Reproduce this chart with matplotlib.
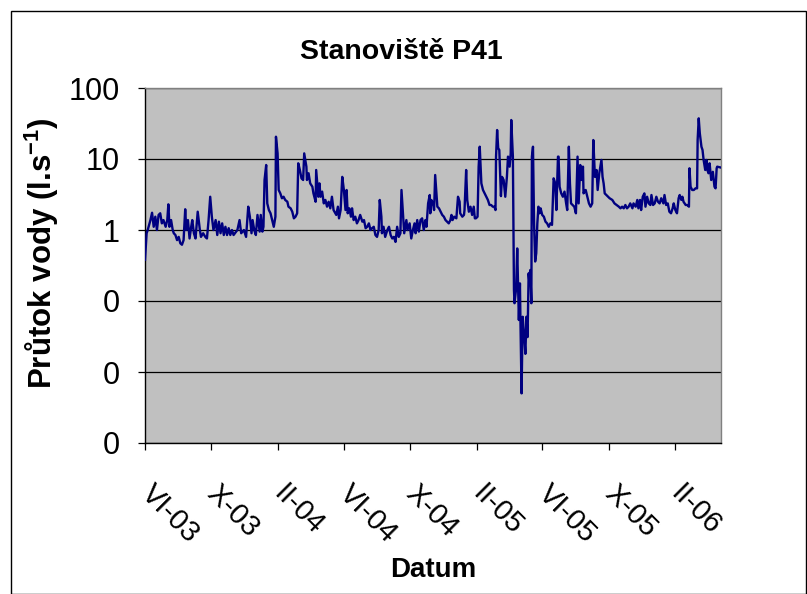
import numpy as np
import matplotlib
matplotlib.use("Agg")
import matplotlib.pyplot as plt
from matplotlib.ticker import FuncFormatter, NullLocator
from matplotlib.transforms import ScaledTranslation
from matplotlib.patches import Rectangle
import matplotlib.dates as mdates

# ---------------- data ----------------
start_date = "2003-06-01"
end_date = "2006-04-26"

day_offsets = [
    0, 3, 5, 10, 13, 16, 19, 22, 25, 28, 31, 34, 38, 41, 43, 45, 48, 51, 53, 56,
    59, 62, 65, 68, 71, 74, 76, 79, 82, 85, 87, 90, 93, 97, 101, 103, 107, 111, 114, 117,
    120, 123, 126, 130, 133, 136, 139, 142, 145, 148, 151, 154, 157, 160, 163, 170, 174, 177, 182, 186,
    190, 193, 196, 198, 201, 204, 207, 211, 213, 216, 218, 220, 223, 225, 228, 231, 234, 237, 240, 241,
    244, 246, 249, 252, 255, 258, 262, 264, 268, 271, 274, 277, 280, 282, 285, 288, 291, 293, 297, 298,
    301, 304, 308, 310, 314, 315, 319, 321, 323, 326, 329, 332, 335, 338, 341, 344, 347, 352, 355, 357,
    360, 363, 366, 369, 371, 373, 376, 379, 381, 384, 387, 390, 393, 396, 400, 403, 406, 409, 412, 415,
    418, 421, 424, 427, 430, 432, 435, 436, 439, 442, 446, 449, 452, 455, 458, 461, 464, 467, 470, 472,
    475, 477, 481, 483, 487, 490, 493, 496, 498, 501, 504, 507, 510, 513, 516, 518, 521, 524, 525, 527,
    530, 532, 534, 538, 541, 544, 547, 550, 553, 556, 559, 562, 564, 566, 569, 573, 576, 579, 580, 584,
    587, 588, 591, 593, 596, 599, 602, 605, 607, 609, 612, 614, 616, 619, 622, 625, 628, 631, 634, 637,
    640, 643, 645, 646, 648, 650, 652, 655, 657, 660, 663, 666, 668, 671, 673, 674, 677, 679, 680, 683,
    685, 688, 690, 691, 693, 695, 698, 700, 702, 704, 706, 707, 709, 711, 712, 714, 716, 718, 720, 722,
    724, 726, 728, 731, 734, 737, 740, 743, 746, 749, 752, 755, 757, 760, 761, 763, 766, 769, 772, 775,
    777, 780, 782, 784, 787, 790, 793, 796, 798, 801, 803, 806, 807, 811, 814, 817, 820, 823, 825, 828,
    831, 833, 836, 840, 842, 844, 846, 849, 852, 855, 860, 864, 868, 872, 875, 878, 881, 884, 887, 890,
    893, 897, 899, 903, 906, 908, 911, 913, 916, 919, 921, 924, 927, 930, 932, 935, 938, 941, 944, 947,
    950, 954, 956, 959, 962, 965, 968, 971, 973, 976, 979, 982, 984, 987, 989, 991, 995, 998, 1001, 1002,
    1004, 1007, 1010, 1013, 1016, 1017, 1019, 1021, 1024, 1026, 1028, 1031, 1033, 1035, 1037, 1039, 1042, 1045, 1048, 1050,
    1052, 1053, 1059,
]

flow = [
    0.38, 0.90, 1.0, 1.38, 1.75, 1.11, 1.54, 1.0, 1.63, 1.72, 1.24, 1.38, 1.11, 1.38, 2.3, 1.11, 1.38, 1.0, 0.90, 0.85,
    0.72, 0.80, 0.65, 0.62, 0.72, 1.96, 1.0, 1.38, 0.76, 1.11, 1.38, 0.90, 0.76, 1.81, 1.0, 0.80, 0.90, 0.80, 0.76, 1.38,
    2.94, 1.54, 1.0, 1.38, 0.85, 1.31, 0.90, 1.24, 0.85, 1.11, 0.85, 1.06, 0.85, 1.0, 0.85, 1.0, 1.38, 0.90, 1.0, 0.80,
    2.13, 1.54, 0.90, 1.38, 1.0, 0.85, 1.63, 0.95, 1.63, 0.95, 1.11, 5.06, 8.23, 2.37, 1.91, 1.72, 1.38, 1.11, 1.54, 20.6,
    12.0, 3.66, 3.28, 2.80, 2.94, 2.65, 2.50, 2.13, 2.02, 1.81, 1.46, 1.54, 1.72, 8.7, 7.0, 5.34, 5.06, 12.0, 7.8, 5.06,
    6.3, 4.54, 4.07, 3.28, 2.50, 7.0, 2.94, 4.54, 2.94, 3.47, 2.37, 2.65, 2.13, 2.50, 2.02, 2.94, 1.91, 1.63, 2.13, 1.46,
    1.91, 5.6, 3.66, 1.91, 3.66, 1.72, 2.02, 1.54, 2.02, 1.38, 1.54, 1.24, 1.38, 1.63, 1.31, 1.38, 1.06, 1.11, 1.24, 1.0,
    1.06, 1.11, 0.85, 0.80, 1.0, 2.65, 1.54, 0.90, 1.11, 0.80, 1.0, 1.11, 0.85, 0.76, 0.80, 0.68, 1.11, 0.80, 0.90, 3.66,
    1.54, 0.90, 1.38, 1.0, 1.24, 0.76, 1.0, 1.24, 0.90, 1.38, 0.95, 1.38, 1.46, 1.0, 1.38, 1.11, 2.37, 3.11, 1.72, 2.65,
    2.37, 1.91, 5.95, 2.13, 2.02, 1.81, 1.63, 1.54, 1.38, 1.31, 1.24, 1.38, 1.63, 1.38, 1.54, 1.46, 2.94, 2.50, 1.72, 1.54,
    1.63, 1.91, 7.0, 2.65, 1.81, 2.13, 1.63, 2.13, 1.46, 1.46, 1.54, 7.8, 14.9, 4.54, 3.66, 3.28, 2.94, 2.65, 2.25, 2.25,
    2.13, 2.13, 1.91, 10.8, 25.6, 14.2, 13.4, 3.0, 5.6, 5.06, 2.94, 5.6, 10.8, 7.8, 12.0, 35.4, 10.8, 0.143, 0.093, 0.15,
    0.55, 0.054, 0.177, 0.048, 0.0050, 0.060, 0.031, 0.018, 0.060, 0.031, 0.245, 0.198, 0.273, 0.093, 10.8, 14.9, 1.24, 0.36, 0.47, 1.24,
    2.13, 1.72, 2.02, 1.63, 1.54, 1.31, 1.24, 1.11, 1.24, 1.18, 5.34, 4.54, 1.91, 10.8, 10.8, 4.07, 3.28, 2.94, 3.47, 2.37,
    1.91, 14.9, 4.54, 2.37, 2.25, 2.13, 1.72, 10.8, 2.37, 8.23, 5.06, 7.8, 3.28, 3.66, 2.94, 2.37, 2.13, 2.37, 18.5, 5.6,
    7.0, 3.66, 6.3, 9.7, 5.6, 4.54, 3.28, 3.11, 2.94, 2.80, 2.65, 2.37, 2.25, 2.13, 2.02, 2.13, 2.02, 2.25, 2.02, 2.13,
    2.37, 2.02, 2.37, 2.13, 2.65, 2.02, 2.65, 1.91, 2.94, 3.28, 2.13, 2.94, 2.37, 2.25, 3.11, 2.25, 2.37, 2.94, 2.50, 2.37,
    2.80, 2.37, 3.11, 2.25, 2.37, 1.81, 1.72, 2.02, 2.37, 1.91, 1.72, 2.80, 3.11, 2.65, 2.94, 2.50, 2.25, 2.25, 2.13, 7.4,
    4.07, 3.66, 3.66, 3.86, 3.86, 18.5, 37.4, 23.0, 14.9, 13.4, 9.7, 7.0, 9.7, 7.0, 6.3, 8.7, 5.06, 6.6, 4.07, 3.86,
    7.4, 7.8, 7.6,
]

tick_dates = ["2003-06-01", "2003-10-01", "2004-02-01", "2004-06-01", "2004-10-01",
              "2005-02-01", "2005-06-01", "2005-10-01", "2006-02-01"]
tick_labels = ["VI-03", "X-03", "II-04", "VI-04", "X-04", "II-05", "VI-05", "X-05", "II-06"]
y_ticks = [0.001, 0.01, 0.1, 1, 10, 100]

title = "Stanoviště P41"
ylabel = "Průtok vody (l.s$^{\\mathbf{-1}}$)"
xlabel = "Datum"

# ---------------- style ----------------
plt.rcParams['font.family'] = ['Liberation Sans', 'DejaVu Sans']
plt.rcParams['mathtext.fontset'] = 'custom'
plt.rcParams['mathtext.rm'] = 'Liberation Sans'
plt.rcParams['mathtext.bf'] = 'Liberation Sans:bold'

W, H = 807, 594
fig = plt.figure(figsize=(W / 100, H / 100), dpi=100)
fig.patch.set_facecolor('white')
fig.patches.append(Rectangle((11 / W, 0.5 / H), (W - 12) / W, (H - 11) / H,
                             transform=fig.transFigure, fill=False,
                             edgecolor='black', lw=1.0))

L, R, T, B = 145, 721, 88, 443
ax = fig.add_axes([L / W, 1 - B / H, (R - L) / W, (B - T) / H])
ax.set_facecolor('#C0C0C0')

dates = np.datetime64(start_date) + np.array(day_offsets).astype('timedelta64[D]')
ax.plot(dates, flow, color='#000080', lw=1.7, zorder=3)

ax.set_yscale('log')
ax.set_ylim(0.001, 100)
ax.set_xlim(np.datetime64(start_date), np.datetime64(end_date))

ax.set_yticks(y_ticks)
ax.yaxis.set_minor_locator(NullLocator())
ax.yaxis.set_major_formatter(FuncFormatter(lambda v, p: f"{v:.0f}"))
ax.yaxis.grid(True, color='black', lw=0.9)
ax.set_axisbelow(True)

ax.set_xticks(mdates.date2num(np.array(tick_dates, dtype='datetime64[D]')))
ax.set_xticklabels(tick_labels, rotation=-45, ha='left', va='top',
                   rotation_mode='anchor')
ax.xaxis.set_minor_locator(NullLocator())

ax.tick_params(axis='both', direction='out', length=5, width=0.9, color='black')
ax.tick_params(axis='y', pad=13, labelsize=22)
ax.tick_params(axis='x', pad=21, labelsize=21)
off = ScaledTranslation(10 / 100, 0, fig.dpi_scale_trans)
for lab in ax.get_xticklabels():
    lab.set_transform(lab.get_transform() + off)

for s in ['left', 'bottom']:
    ax.spines[s].set_color('black')
    ax.spines[s].set_linewidth(1.0)
for s in ['top', 'right']:
    ax.spines[s].set_color('#808080')
    ax.spines[s].set_linewidth(1.0)

fig.text(401 / W, 1 - 52 / H, title, ha='center', va='center',
         fontsize=20.5, fontweight='bold')
fig.text(42 / W, 1 - 253 / H, ylabel, ha='center', va='center',
         rotation=90, fontsize=22.5, fontweight='bold')
fig.text(433 / W, 1 - 570 / H, xlabel, ha='center', va='center',
         fontsize=20, fontweight='bold')

fig.savefig('out.png', dpi=100)
